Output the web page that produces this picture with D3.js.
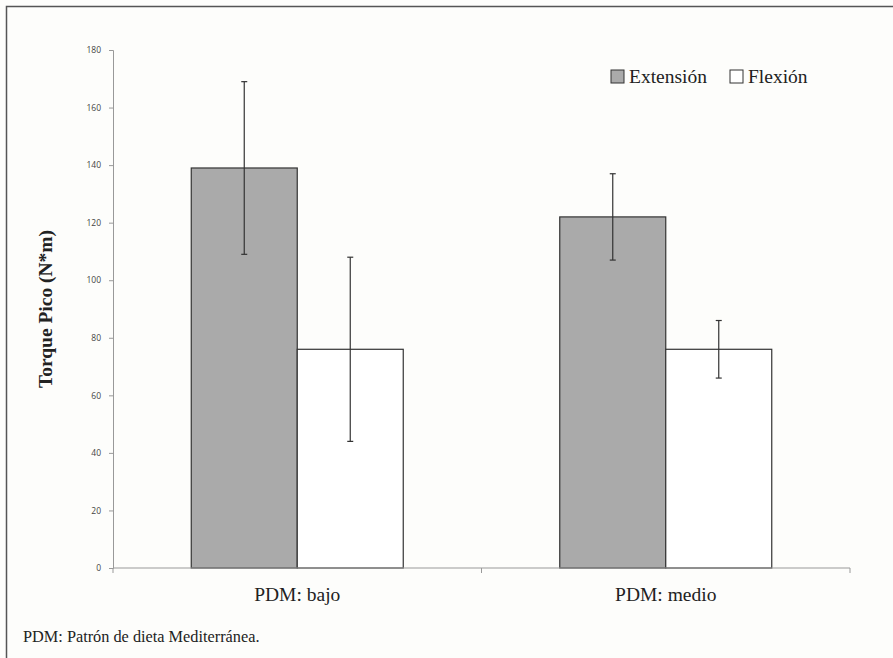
<!DOCTYPE html>
<html>
<head>
<meta charset="utf-8">
<script src="https://cdn.jsdelivr.net/npm/d3@7"></script>
<style>
	body { margin: 0; background: #fdfdfb; }
	svg { display: block; }
	.serif { font-family: "Liberation Serif", "Times New Roman", serif; }
</style>
</head>
<body>
<svg id="chart" width="893" height="658"></svg>
<script>
const categories = ['PDM: bajo', 'PDM: medio'];
const series = ['Extensión', 'Flexión'];
const means = [[139, 122], [76, 76]];
const errLow = [[109, 107], [44, 66]];
const errHigh = [[169, 137], [108, 86]];
const yTicks = [0, 20, 40, 60, 80, 100, 120, 140, 160, 180];
const fills = ['#aaaaaa', '#ffffff'];

const svg = d3.select('#chart');
const margin = { left: 113, right: 43, top: 50, bottom: 90 };
const width = 893, height = 658;

// outer frame, right and bottom cut by the scan
svg.append('rect')
	.attr('x', 6.5).attr('y', 6.5).attr('width', 950).attr('height', 700)
	.attr('fill', 'none').attr('stroke', '#555').attr('stroke-width', 1.5);

const x0 = d3.scaleBand().domain(categories).range([margin.left, width - margin.right]);
const x1 = d3.scaleBand().domain(series).range([0, 212]);
const y = d3.scaleLinear().domain([0, 180]).range([height - margin.bottom, margin.top]);

// y axis
const yAxis = svg.append('g')
	.attr('transform', `translate(${margin.left},0)`)
	.call(d3.axisLeft(y).tickValues(yTicks).tickSize(4).tickPadding(8));
yAxis.select('.domain').attr('stroke', '#999');
yAxis.selectAll('.tick line').attr('stroke', '#999');
yAxis.selectAll('.tick text')
	.attr('font-family', '"Open Sans", sans-serif').attr('font-size', 8.5).attr('fill', '#444');

// bars
const groups = svg.append('g').selectAll('g')
	.data(categories).join('g')
	.attr('transform', d => `translate(${x0(d) + (x0.bandwidth() - 212) / 2},0)`);

series.forEach((s, si) => {
	groups.append('rect')
		.attr('x', x1(s))
		.attr('width', x1.bandwidth())
		.attr('y', (d, ci) => y(means[si][ci]))
		.attr('height', (d, ci) => y(0) - y(means[si][ci]))
		.attr('fill', fills[si])
		.attr('stroke', '#333').attr('stroke-width', 1.2);
});

// x axis
const xAxis = svg.append('g')
	.attr('transform', `translate(0,${y(0)})`);
xAxis.append('line')
	.attr('x1', margin.left).attr('x2', width - margin.right)
	.attr('stroke', '#999').attr('stroke-width', 1.2);
xAxis.selectAll('.sep')
	.data([margin.left, x0(categories[1]), width - margin.right]).join('line')
	.attr('x1', d => d).attr('x2', d => d).attr('y1', 0).attr('y2', 5)
	.attr('stroke', '#999');
xAxis.selectAll('text')
	.data(categories).join('text')
	.attr('class', 'serif')
	.attr('x', d => x0(d) + x0.bandwidth() / 2)
	.attr('y', 33)
	.attr('text-anchor', 'middle')
	.attr('font-size', 19.5)
	.attr('fill', '#222')
	.text(d => d);

// error bars
series.forEach((s, si) => {
	groups.each(function (d, ci) {
		const g = d3.select(this);
		const cx = x1(s) + x1.bandwidth() / 2;
		g.append('line')
			.attr('x1', cx).attr('x2', cx)
			.attr('y1', y(errLow[si][ci])).attr('y2', y(errHigh[si][ci]))
			.attr('stroke', '#333').attr('stroke-width', 1.2);
		[errLow[si][ci], errHigh[si][ci]].forEach(v => {
			g.append('line')
				.attr('x1', cx - 3).attr('x2', cx + 3)
				.attr('y1', y(v)).attr('y2', y(v))
				.attr('stroke', '#333').attr('stroke-width', 1.2);
		});
	});
});

// y title
svg.append('text')
	.attr('class', 'serif')
	.attr('transform', `translate(52,${(y(0) + y(180)) / 2}) rotate(-90)`)
	.attr('text-anchor', 'middle')
	.attr('font-size', 19.5)
	.attr('font-weight', 'bold').attr('fill', '#222')
	.text('Torque Pico (N*m)');

// legend
const legend = svg.append('g').attr('transform', 'translate(611,70)');
const legendX = [0, 119];
series.forEach((s, si) => {
	legend.append('rect')
		.attr('x', legendX[si]).attr('y', 0).attr('width', 13).attr('height', 13)
		.attr('fill', fills[si]).attr('stroke', '#333');
	legend.append('text')
		.attr('class', 'serif')
		.attr('x', legendX[si] + 18).attr('y', 13)
		.attr('font-size', 19.5)
		.attr('fill', '#222')
		.text(s);
});

// footnote
svg.append('text')
	.attr('class', 'serif')
	.attr('x', 23).attr('y', 642)
	.attr('font-size', 16.3)
	.attr('fill', '#222')
	.text('PDM: Patrón de dieta Mediterránea.');
</script>
</body>
</html>
